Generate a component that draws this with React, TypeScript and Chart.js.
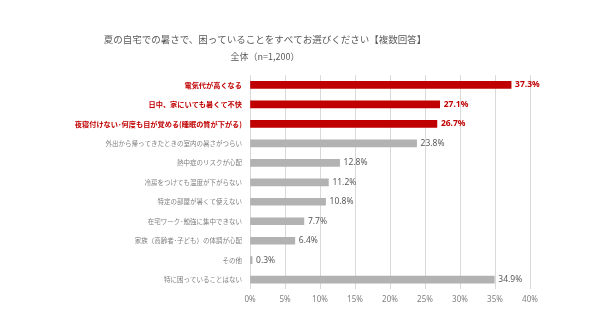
import React, { useEffect, useRef } from "react";
import { Chart, registerables } from "chart.js";

Chart.register(...registerables);

const TITLE = "夏の自宅での暑さで、困っていることをすべてお選びください【複数回答】";
const SUBTITLE = "全体（n=1,200）";

const categories = [
  "電気代が高くなる",
  "日中、家にいても暑くて不快",
  "夜寝付けない･何度も目が覚める(睡眠の質が下がる)",
  "外出から帰ってきたときの室内の暑さがつらい",
  "熱中症のリスクが心配",
  "冷房をつけても温度が下がらない",
  "特定の部屋が暑くて使えない",
  "在宅ワーク･勉強に集中できない",
  "家族（高齢者･子ども）の体調が心配",
  "その他",
  "特に困っていることはない",
];

const values = [37.3, 27.1, 26.7, 23.8, 12.8, 11.2, 10.8, 7.7, 6.4, 0.3, 34.9];

const highlightCount = 3;
const xTicks = [0, 5, 10, 15, 20, 25, 30, 35, 40];

const RED = "#c00000";
const GRAY_BAR = "#b2b2b2";
const LABEL_GRAY = "#7f7f7f";
const CJK = "'Noto Sans CJK JP', 'Noto Sans', sans-serif";
const LATIN = "'Noto Sans', 'Noto Sans CJK JP', sans-serif";

const valueLabelPlugin = {
  id: "valueLabels",
  afterDatasetsDraw(chart: any) {
    const ctx = chart.ctx;
    const meta = chart.getDatasetMeta(0);
    ctx.save();
    ctx.textBaseline = "middle";
    ctx.textAlign = "left";
    meta.data.forEach((bar: any, i: number) => {
      const hi = i < highlightCount;
      ctx.font = `${hi ? "bold " : ""}8.5px ${LATIN}`;
      ctx.fillStyle = hi ? RED : "#595959";
      ctx.fillText(values[i].toFixed(1) + "%", bar.x + 4, bar.y);
    });
    ctx.restore();
  },
};

export default function App() {
  const ref = useRef<HTMLCanvasElement | null>(null);

  useEffect(() => {
    document.body.style.margin = "0";
    const canvas = ref.current;
    if (!canvas) return;
    const chart = new Chart(canvas, {
      type: "bar",
      data: {
        labels: categories,
        datasets: [
          {
            data: values,
            backgroundColor: values.map((_, i) => (i < highlightCount ? RED : GRAY_BAR)),
            barThickness: 7,
          },
        ],
      },
      options: {
        indexAxis: "y",
        responsive: false,
        animation: false,
        layout: { padding: { left: 0, right: 70, top: 34, bottom: 14 } },
        plugins: {
          legend: { display: false },
          tooltip: { enabled: false },
          title: {
            display: true,
            text: TITLE,
            color: "#595959",
            font: { family: CJK, size: 9.5, weight: "normal" },
            padding: { top: 0, bottom: 6 },
          },
          subtitle: {
            display: true,
            text: SUBTITLE,
            color: "#595959",
            font: { family: CJK, size: 9, weight: "normal" },
            padding: { top: 0, bottom: 13 },
          },
        },
        scales: {
          x: {
            min: 0,
            max: 40,
            afterBuildTicks: (scale: any) => {
              scale.ticks = xTicks.map((v) => ({ value: v }));
            },
            ticks: {
              color: "#7f7f7f",
              font: { family: LATIN, size: 8 },
              padding: 6,
              callback: (v: any) => v + "%",
            },
            grid: { color: "#d9d9d9", drawTicks: false },
            border: { display: false },
          },
          y: {
            afterFit: (scale: any) => {
              scale.width = 250;
            },
            ticks: {
              padding: 8,
              color: (c: any) => (c.index < highlightCount ? RED : LABEL_GRAY),
              font: (c: any) => ({
                family: CJK,
                size: c.index < highlightCount ? 7.2 : 6.5,
                weight: c.index < highlightCount ? "bold" : "normal",
              }),
            },
            grid: { display: false, drawTicks: false },
            border: { display: false },
          },
        },
      },
      plugins: [valueLabelPlugin],
    } as any);
    return () => chart.destroy();
  }, []);

  return <canvas ref={ref} width={600} height={325} />;
}
